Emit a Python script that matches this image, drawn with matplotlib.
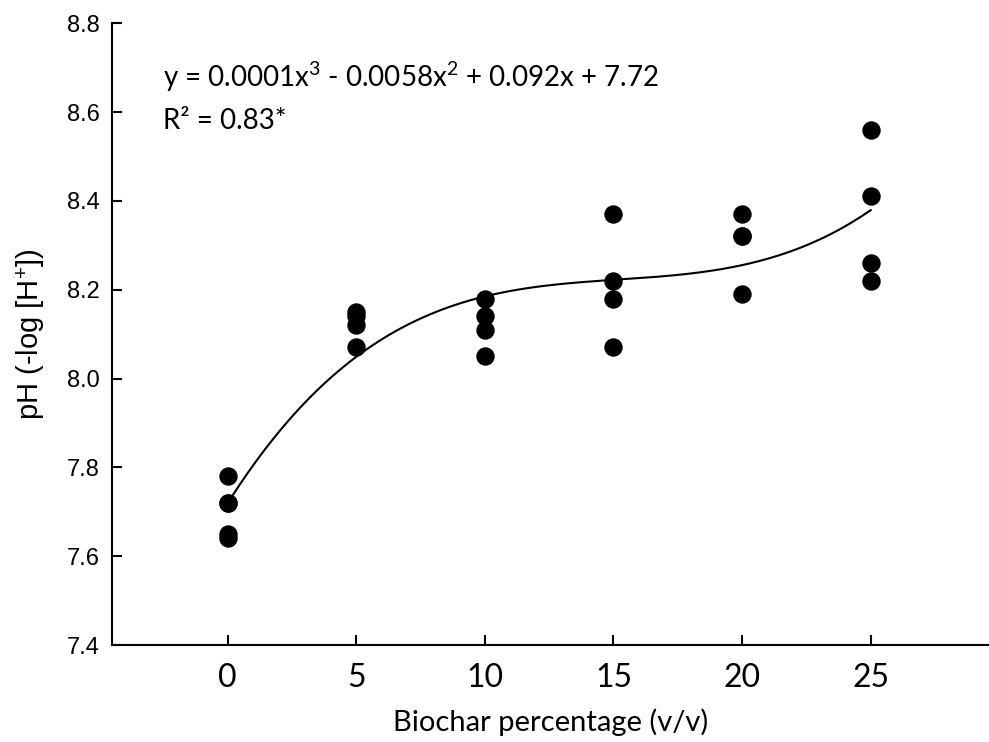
import matplotlib
matplotlib.use("Agg")
import matplotlib.pyplot as plt
import numpy as np

# biochar percentage and measured pH (replicates)
biochar = [0, 0, 0, 0, 0,
           5, 5, 5, 5,
           10, 10, 10, 10,
           15, 15, 15, 15,
           20, 20, 20, 20,
           25, 25, 25, 25]
ph = [7.78, 7.72, 7.72, 7.65, 7.64,
      8.15, 8.14, 8.12, 8.07,
      8.18, 8.14, 8.11, 8.05,
      8.37, 8.22, 8.18, 8.07,
      8.37, 8.32, 8.32, 8.19,
      8.56, 8.41, 8.26, 8.22]

x_ticks = [0, 5, 10, 15, 20, 25]
y_ticks = [7.4, 7.6, 7.8, 8.0, 8.2, 8.4, 8.6, 8.8]
eq_text = "y = 0.0001x$^3$ - 0.0058x$^2$ + 0.092x + 7.72"
r2_text = "R² = 0.83*"

plt.rcParams["mathtext.fontset"] = "custom"
plt.rcParams["mathtext.rm"] = "Lato"
plt.rcParams["mathtext.it"] = "Lato:italic"

fig = plt.figure(figsize=(9.89, 7.42), dpi=100)
ax = fig.add_axes([0.1132, 0.1307, 0.8868, 0.838])

# cubic trend line through the points
coef = np.polyfit(biochar, ph, 3)
xs = np.linspace(0, 25, 200)
ax.plot(xs, np.polyval(coef, xs), color="black", lw=1.5, zorder=2)
ax.scatter(biochar, ph, s=150, color="black", zorder=3)

ax.set_xlim(-4.5, 29.6)
ax.set_ylim(7.4, 8.8)
ax.set_xticks(x_ticks)
ax.set_yticks(y_ticks)
ax.set_yticklabels(["{:.1f}".format(v) for v in y_ticks], family="Liberation Sans", fontsize=17)
ax.set_xticklabels([str(v) for v in x_ticks], family="Lato", fontsize=23)
ax.tick_params(axis="x", direction="in", length=7, width=1.5, pad=13)
ax.tick_params(axis="y", direction="in", length=7, width=1.5, pad=9)

for s in ["top", "right"]:
    ax.spines[s].set_visible(False)
for s in ["left", "bottom"]:
    ax.spines[s].set_linewidth(1.5)

ax.set_xlabel("Biochar percentage (v/v)", family="Lato", fontsize=21, labelpad=11)
ax.set_ylabel("pH (-log [H$^{+}$])", family="Liberation Sans", fontsize=21, labelpad=14)

ax.text(0.058, 0.913, eq_text, transform=ax.transAxes, family="Lato", fontsize=20, va="center")
ax.text(0.058, 0.842, r2_text, transform=ax.transAxes, family="Lato", fontsize=20, va="center")

fig.savefig("out.png", dpi=100)
